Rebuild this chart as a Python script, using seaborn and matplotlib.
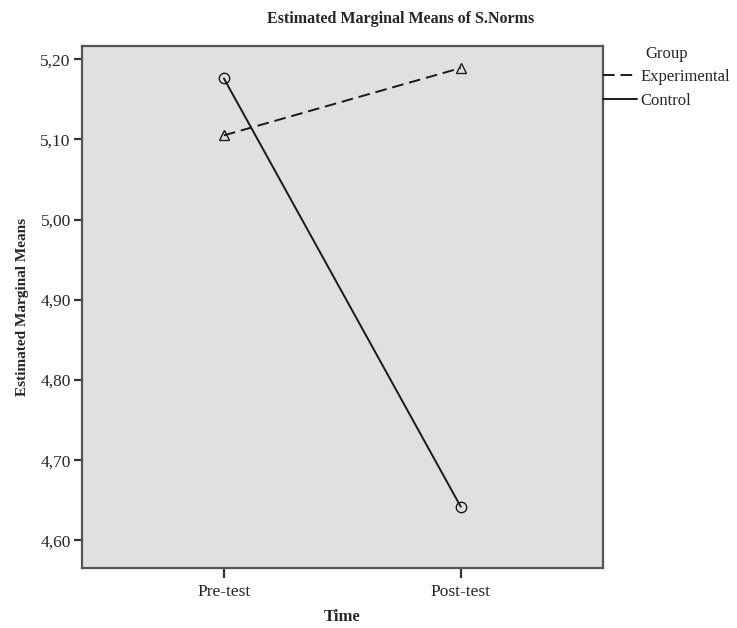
import matplotlib
matplotlib.use("Agg")
import matplotlib.pyplot as plt
import seaborn as sns
import pandas as pd
from matplotlib.ticker import FuncFormatter

# Data
times = ["Pre-test", "Post-test"]
experimental = [5.105, 5.189]
control = [5.176, 4.642]
y_ticks = [4.60, 4.70, 4.80, 4.90, 5.00, 5.10, 5.20]

df = pd.DataFrame({
    "Time": times * 2,
    "Mean": experimental + control,
    "Group": ["Experimental"] * 2 + ["Control"] * 2,
})

sns.set_theme(style="ticks")
plt.rcParams["font.family"] = ["Liberation Serif", "DejaVu Serif"]

fig = plt.figure(figsize=(7.37, 6.28), dpi=100)
ax = fig.add_axes([0.111, 0.096, 0.707, 0.8315])
ax.set_facecolor("#e0e0e0")

sns.lineplot(
    data=df, x="Time", y="Mean", hue="Group", style="Group",
    hue_order=["Experimental", "Control"], style_order=["Experimental", "Control"],
    palette={"Experimental": "#1a1a1a", "Control": "#1a1a1a"},
    markers={"Experimental": "^", "Control": "o"},
    dashes={"Experimental": (6, 3), "Control": ""},
    markersize=7.5, mfc="none", mec="#1a1a1a", mew=1.0, linewidth=1.4,
    sort=False, ax=ax,
)

ax.set_xlim(-0.6, 1.6)
ax.set_ylim(4.566, 5.217)
ax.set_yticks(y_ticks)
ax.yaxis.set_major_formatter(FuncFormatter(lambda v, p: f"{v:.2f}".replace(".", ",")))

for s in ax.spines.values():
    s.set_color("#555555")
    s.set_linewidth(1.6)
ax.tick_params(axis="y", length=6, width=1.6, color="#333333", labelsize=12.5, pad=2)
ax.tick_params(axis="x", length=7.5, width=1.6, color="#333333", labelsize=12.5, pad=4)

ax.set_xlabel("Time", fontsize=12, fontweight="bold", labelpad=7)
ax.set_ylabel("Estimated Marginal Means", fontsize=11, fontweight="bold", labelpad=8)
fig.text(0.543, 0.97, "Estimated Marginal Means of S.Norms", ha="center", va="center",
         fontsize=11.5, fontweight="bold")

handles, labels = ax.get_legend_handles_labels()
for h in handles:
    h.set_marker("")
leg = ax.legend(handles, labels, title="Group", loc="upper left", bbox_to_anchor=(1.0, 1.0),
                frameon=False, fontsize=12, title_fontsize=12, handlelength=2.05,
                handletextpad=0.2, borderaxespad=0, borderpad=0, labelspacing=0.45)

fig.savefig("out.png", dpi=100)
